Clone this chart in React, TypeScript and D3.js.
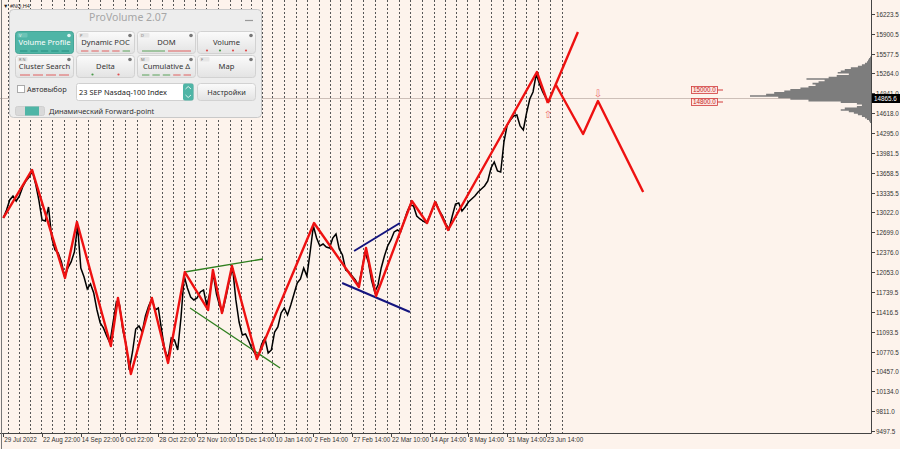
import { useEffect, useRef } from "react"
import * as d3 from "d3"

const W = 900
const H = 449

// right price scale
const priceTicks = [
  16223.5, 15900.5, 15577.5, 15264.0, 14941.0, 14618.0, 14295.0, 13981.5, 13658.5, 13335.5, 13022.0,
  12699.0, 12376.0, 12053.0, 11739.5, 11416.5, 11093.5, 10770.5, 10457.0, 10134.0, 9811.0, 9497.5,
]

// bottom time labels (one every 12 bars)
const timeLabels = [
  "29 Jul 2022", "22 Aug 22:00", "14 Sep 22:00", "6 Oct 22:00", "28 Oct 22:00", "22 Nov 10:00",
  "15 Dec 14:00", "10 Jan 14:00", "2 Feb 14:00", "27 Feb 14:00", "22 Mar 10:00", "14 Apr 14:00",
  "8 May 14:00", "31 May 14:00", "23 Jun 14:00",
]
const timeLabelDates = [
  new Date(2022, 6, 29), new Date(2022, 7, 22, 22), new Date(2022, 8, 14, 22), new Date(2022, 9, 6, 22),
  new Date(2022, 9, 28, 22), new Date(2022, 10, 22, 10), new Date(2022, 11, 15, 14), new Date(2023, 0, 10, 14),
  new Date(2023, 1, 2, 14), new Date(2023, 1, 27, 14), new Date(2023, 2, 22, 10), new Date(2023, 3, 14, 14),
  new Date(2023, 4, 8, 14), new Date(2023, 4, 31, 14), new Date(2023, 5, 23, 14),
]
const barsPerLabel = 12

// Nasdaq-100 closes, one per bar
const closes = [
  12931, 13060, 13222, 13286, 13205, 13286, 13431, 13528, 13593, 13690,
  13480, 13222, 12899, 12882, 13109, 12608, 12415, 12366, 12221, 11979,
  12124, 12221, 12382, 12802, 12124, 11979, 11785, 11866, 11720, 11446,
  11236, 11156, 11026, 10913, 11252, 11575, 11527, 11123, 10897, 10478,
  10768, 11139, 11188, 11091, 11349, 11511, 11624, 11446, 11478, 11123,
  10801, 10671, 10994, 10962, 10801, 11317, 11995, 11801, 11656, 11608,
  11640, 11737, 11769, 11511, 11737, 12027, 11704, 11511, 11446, 11672,
  11930, 12124, 11608, 11252, 11043, 11059, 10946, 10817, 10736, 10704,
  10897, 10994, 10752, 10801, 11091, 11172, 11398, 11478, 11365, 11527,
  11704, 11882, 11946, 12124, 11995, 12382, 12802, 12608, 12479, 12511,
  12463, 12447, 12608, 12673, 12431, 12334, 12092, 12059, 11995, 11930,
  11833, 12092, 12382, 12221, 11930, 11737, 11850, 12124, 12318, 12479,
  12576, 12705, 12737, 12705, 12866, 13028, 13141, 13125, 12963, 12915,
  12882, 12850, 12963, 13092, 13173, 13044, 12963, 12834, 12753, 12963,
  13157, 13173, 13044, 13109, 13189, 13238, 13286, 13351, 13399, 13447,
  13528, 13738, 13835, 13690, 13673, 14158, 14432, 14513, 14577, 14593,
  14416, 14352, 14626, 14852, 14965, 15255, 15094, 14965, 14868, 14803,
]

// zigzag swings
const zigzagBars = [0, 8.9, 19.1, 22.8, 33.3, 35.5, 39.5, 46.0, 51.0, 56.2, 63.4, 64.9, 67.7, 70.8, 78.5, 96.2, 110.1, 112.3, 115.4, 126.5, 131.2, 133.7, 137.7, 165.2, 168.6]
const zigzagPrices = [12931, 13706, 11963, 12866, 10865, 11640, 10413, 11640, 10591, 12059, 11446, 12092, 11398, 12156, 10655, 12850, 11817, 12447, 11672, 13205, 12850, 13189, 12737, 15287, 14787]

// forward-point projections
const forwardUpBars = [168.6, 177.9]
const forwardUpPrices = [14787, 15933]
const forwardDownBars = [171.1, 179.5, 184.1, 198.1]
const forwardDownPrices = [15078, 14287, 14819, 13351]

// pattern lines
const greenUpperBars = [56.2, 80.4]
const greenUpperPrices = [12059, 12269]
const greenLowerBars = [57.8, 85.7]
const greenLowerPrices = [11478, 10510]
const blueUpperBars = [108.6, 122.8]
const blueUpperPrices = [12398, 12850]
const blueLowerBars = [104.9, 125.9]
const blueLowerPrices = [11882, 11414]

// volume profile
const profilePrices = [
  15550, 15525, 15500, 15475, 15450, 15425, 15400, 15375, 15350, 15325, 15300, 15275, 15250, 15225,
  15200, 15175, 15150, 15125, 15100, 15075, 15050, 15025, 15000, 14975, 14950, 14925, 14900, 14875,
  14850, 14825, 14800, 14775, 14750, 14725, 14700, 14675, 14650, 14625, 14600, 14575, 14550, 14525,
  14500, 14475,
]
const profileVolumes = [
  0, 1, 2, 3, 4, 6, 9, 13, 20, 26, 30, 33, 22, 34,
  42, 64, 46, 52, 58, 55, 62, 70, 80, 86, 96, 104, 120, 92,
  80, 62, 30, 14, 9, 14, 26, 30, 22, 17, 13, 9, 6, 4,
  2, 1,
]

const levelPrices = [15000, 14800]
const lastPrice = 14865.6

const panelButtons = [
  { label: "Volume Profile", tag: "V", active: true, marks: ["#1f8a7a", "#1f8a7a", "#1f8a7a", "#1f8a7a", "#1f8a7a"], kind: "dash" },
  { label: "Dynamic POC", tag: "P", active: false, marks: ["#e05050", "#e05050", "#e05050", "#e05050", "#4a9a4a"], kind: "dash" },
  { label: "DOM", tag: "D", active: false, marks: ["#4a9a4a", "#e05050"], kind: "dash" },
  { label: "Volume", tag: "", active: false, marks: ["#e05050", "#4a9a4a", "#e05050", "#e05050"], kind: "dot" },
  { label: "Cluster Search", tag: "R  N", active: false, marks: ["#e05050", "#e05050", "#e05050", "#e05050"], kind: "dash" },
  { label: "Delta", tag: "", active: false, marks: ["#4a9a4a", "#e05050"], kind: "dot" },
  { label: "Cumulative Δ", tag: "M", active: false, marks: ["#4a9a4a", "#4a9a4a", "#4a9a4a", "#e05050", "#e05050"], kind: "dash" },
  { label: "Map", tag: "F", active: false, marks: [], kind: "dash" },
]

export default function App() {
  const svgRef = useRef<SVGSVGElement>(null)

  useEffect(() => {
    document.body.style.margin = "0"
    if (!svgRef.current) return
    const svg = d3.select(svgRef.current)
    svg.selectAll("*").remove()

    const plotRight = 871
    const plotBottom = 433
    const axisFont = "'Liberation Sans', Arial, sans-serif"
    const uiFont = "'Noto Sans', 'Open Sans', sans-serif"

    const lastBar = barsPerLabel * (timeLabels.length - 1)
    const x = d3.scaleLinear().domain([0, lastBar]).range([3.3, 3.3 + 38.76 * (timeLabels.length - 1)])
    const y = d3.scaleLinear().domain([9497.5, 16223.5]).range([430.7, 14])
    const dateToBar = d3
      .scaleLinear()
      .domain(timeLabelDates.map((d) => +d))
      .range(timeLabelDates.map((_, i) => i * barsPerLabel))

    svg.append("rect").attr("width", W).attr("height", H).attr("fill", "#fdf3ec")

    const defs = svg.append("defs")
    defs
      .append("clipPath")
      .attr("id", "plot-clip")
      .append("rect")
      .attr("x", 0)
      .attr("y", 0)
      .attr("width", plotRight)
      .attr("height", plotBottom)

    const plot = svg.append("g").attr("clip-path", "url(#plot-clip)")

    // weekly separators
    const mondays = d3.timeMonday.range(new Date(2022, 6, 25), new Date(2023, 6, 4))
    plot
      .selectAll(".week")
      .data(mondays)
      .join("line")
      .attr("class", "week")
      .attr("x1", (d) => Math.round(x(dateToBar(+d))) + 0.5)
      .attr("x2", (d) => Math.round(x(dateToBar(+d))) + 0.5)
      .attr("y1", 0)
      .attr("y2", plotBottom)
      .attr("stroke", "#555")
      .attr("stroke-width", 1)
      .attr("stroke-dasharray", "2,2")

    // bid line
    plot
      .append("line")
      .attr("x1", 0)
      .attr("x2", plotRight)
      .attr("y1", Math.round(y(lastPrice)) + 0.5)
      .attr("y2", Math.round(y(lastPrice)) + 0.5)
      .attr("stroke", "#cdbfb8")

    // volume profile, drawn as one stepped outline
    const vScale = d3.scaleLinear().domain([0, d3.max(profileVolumes) as number]).range([0, 121])
    const half = 12.5
    const outline: [number, number][] = [[plotRight, y(profilePrices[0] + half)]]
    profilePrices.forEach((p, i) => {
      const xv = plotRight - vScale(profileVolumes[i])
      outline.push([xv, y(p + half)])
      outline.push([xv, y(p - half)])
    })
    outline.push([plotRight, y(profilePrices[profilePrices.length - 1] - half)])
    plot
      .append("path")
      .attr("d", d3.line()(outline) + "Z")
      .attr("fill", "#7d7d7d")

    // price
    const priceLine = d3
      .line<number>()
      .x((_, i) => x(i))
      .y((d) => y(d))
    plot
      .append("path")
      .attr("d", priceLine(closes))
      .attr("fill", "none")
      .attr("stroke", "#000")
      .attr("stroke-width", 1.5)
      .attr("stroke-linejoin", "miter")

    const seg = (bars: number[], prices: number[]) =>
      d3
        .line<number>()
        .x((d) => x(d))
        .y((_, i) => y(prices[i]))(bars)

    const drawLine = (bars: number[], prices: number[], color: string, width: number) =>
      plot
        .append("path")
        .attr("d", seg(bars, prices))
        .attr("fill", "none")
        .attr("stroke", color)
        .attr("stroke-width", width)
        .attr("stroke-linejoin", "round")

    drawLine(greenUpperBars, greenUpperPrices, "#2f7f1f", 1.3)
    drawLine(greenLowerBars, greenLowerPrices, "#2f7f1f", 1.3)
    drawLine(blueUpperBars, blueUpperPrices, "#14147e", 2)
    drawLine(blueLowerBars, blueLowerPrices, "#14147e", 2)

    drawLine(zigzagBars, zigzagPrices, "#ee1111", 2.4)
    drawLine(forwardUpBars, forwardUpPrices, "#ee1111", 2.4)
    drawLine(forwardDownBars, forwardDownPrices, "#ee1111", 2.4)

    // forward-point arrows
    const arrow = (bx: number, py: number, dy: number, glyph: string) =>
      plot
        .append("text")
        .attr("x", x(bx))
        .attr("y", y(py) + dy)
        .attr("text-anchor", "middle")
        .style("font-family", "'DejaVu Sans', sans-serif")
        .style("font-size", "10px")
        .style("fill", "#ec6a6a")
        .text(glyph)
    arrow(forwardUpBars[0], forwardUpPrices[0], 15, "⇧")
    arrow(forwardDownBars[2], forwardDownPrices[2], -4, "⇩")

    // level labels
    const levels = plot
      .selectAll(".level")
      .data(levelPrices)
      .join("g")
      .attr("class", "level")
      .attr("transform", (d) => `translate(691, ${Math.round(y(d))})`)
    levels
      .append("rect")
      .attr("x", 0.5)
      .attr("y", -3.5)
      .attr("width", 26)
      .attr("height", 7)
      .attr("fill", "#fde6e1")
      .attr("stroke", "#d23a3a")
      .attr("stroke-width", 0.8)
    levels
      .append("line")
      .attr("x1", 26.5)
      .attr("x2", 32)
      .attr("y1", 0)
      .attr("y2", 0)
      .attr("stroke", "#d23a3a")
    levels
      .append("text")
      .attr("x", 13.5)
      .attr("y", 2.3)
      .attr("text-anchor", "middle")
      .style("font-family", axisFont)
      .style("font-size", "6.3px")
      .style("fill", "#c62828")
      .text((d) => d.toFixed(1))

    // axes
    svg.append("line").attr("x1", plotRight + 0.5).attr("x2", plotRight + 0.5).attr("y1", 0).attr("y2", plotBottom + 0.5).attr("stroke", "#444")
    svg.append("line").attr("x1", 0).attr("x2", plotRight + 0.5).attr("y1", plotBottom + 0.5).attr("y2", plotBottom + 0.5).attr("stroke", "#444")
    svg.append("line").attr("x1", 1.5).attr("x2", 1.5).attr("y1", 0).attr("y2", H).attr("stroke", "#777")

    const yTicks = svg.append("g")
    yTicks
      .selectAll("line")
      .data(priceTicks)
      .join("line")
      .attr("x1", plotRight)
      .attr("x2", plotRight + 4)
      .attr("y1", (d) => Math.round(y(d)) + 0.5)
      .attr("y2", (d) => Math.round(y(d)) + 0.5)
      .attr("stroke", "#444")
    yTicks
      .selectAll("text")
      .data(priceTicks)
      .join("text")
      .attr("x", plotRight + 5)
      .attr("y", (d) => Math.round(y(d)) + 2.5)
      .style("font-family", axisFont)
      .style("font-size", "6.3px")
      .style("fill", "#333")
      .text((d) => d.toFixed(1))

    const xTicks = svg.append("g")
    xTicks
      .selectAll("line")
      .data(timeLabels)
      .join("line")
      .attr("x1", (_, i) => Math.round(x(i * barsPerLabel)) + 0.5)
      .attr("x2", (_, i) => Math.round(x(i * barsPerLabel)) + 0.5)
      .attr("y1", plotBottom)
      .attr("y2", plotBottom + 4)
      .attr("stroke", "#444")
    xTicks
      .selectAll("text")
      .data(timeLabels)
      .join("text")
      .attr("x", (_, i) => x(i * barsPerLabel) + 1)
      .attr("y", plotBottom + 9)
      .style("font-family", axisFont)
      .style("font-size", "6.3px")
      .style("fill", "#333")
      .text((d) => d)

    // last price box
    const ly = Math.round(y(lastPrice))
    svg.append("rect").attr("x", plotRight + 1).attr("y", ly - 4).attr("width", 28).attr("height", 9).attr("fill", "#000")
    svg
      .append("text")
      .attr("x", plotRight + 3)
      .attr("y", ly + 2.7)
      .style("font-family", axisFont)
      .style("font-size", "6.3px")
      .style("fill", "#fff")
      .text(lastPrice.toFixed(1))

    // symbol title
    svg
      .append("text")
      .attr("x", 3)
      .attr("y", 8)
      .style("font-family", axisFont)
      .style("font-size", "5.5px")
      .style("fill", "#222")
      .text("▼ #NQ,H4")

    // ProVolume panel
    const panel = svg.append("g")
    panel
      .append("rect")
      .attr("x", 9.5)
      .attr("y", 9.5)
      .attr("width", 252)
      .attr("height", 108)
      .attr("rx", 4)
      .attr("fill", "#ededed")
      .attr("stroke", "#c9c9c9")
    panel
      .append("text")
      .attr("x", 128)
      .attr("y", 21)
      .attr("text-anchor", "middle")
      .style("font-family", uiFont)
      .style("font-size", "10.5px")
      .style("fill", "#a6a6a6")
      .text("ProVolume 2.07")
    panel.append("line").attr("x1", 245).attr("x2", 253).attr("y1", 20.5).attr("y2", 20.5).attr("stroke", "#999").attr("stroke-width", 1.2)

    const grad = defs.append("linearGradient").attr("id", "btn").attr("x1", 0).attr("y1", 0).attr("x2", 0).attr("y2", 1)
    grad.append("stop").attr("offset", "0%").attr("stop-color", "#fbfbfb")
    grad.append("stop").attr("offset", "100%").attr("stop-color", "#e3e3e3")

    const cols = [15, 76, 137, 197]
    const rows = [31, 55]
    const bw = 58
    const bh = 22
    panelButtons.forEach((b, i) => {
      const bx = cols[i % 4] + 0.5
      const by = rows[Math.floor(i / 4)] + 0.5
      const g = panel.append("g").attr("transform", `translate(${bx},${by})`)
      g.append("rect")
        .attr("width", bw)
        .attr("height", bh)
        .attr("rx", 3)
        .attr("fill", b.active ? "#4fb5a6" : "url(#btn)")
        .attr("stroke", b.active ? "#46a596" : "#d2d2d2")
      if (b.tag) {
        g.append("rect").attr("x", 2).attr("y", 1.5).attr("width", 10).attr("height", 4.5).attr("rx", 1).attr("fill", b.active ? "#6cc3b6" : "#e6e6e6")
        g.append("text")
          .attr("x", 3.5)
          .attr("y", 5.3)
          .style("font-family", uiFont)
          .style("font-size", "4px")
          .style("fill", b.active ? "#e8fffb" : "#777")
          .text(b.tag)
      }
      g.append("circle").attr("cx", bw - 4.5).attr("cy", 4).attr("r", 1.8).attr("fill", b.active ? "#e0f5f2" : "#777")
      g.append("text")
        .attr("x", bw / 2)
        .attr("y", 13.5)
        .attr("text-anchor", "middle")
        .style("font-family", uiFont)
        .style("font-size", "7.6px")
        .style("fill", b.active ? "#fff" : "#333")
        .text(b.label)
      const n = b.marks.length
      b.marks.forEach((c, k) => {
        const cw = (bw - 6) / n
        const cx0 = 3 + k * cw
        if (b.kind === "dot") {
          g.append("circle").attr("cx", cx0 + cw / 2).attr("cy", bh - 3).attr("r", 1.1).attr("fill", c)
        } else {
          g.append("line")
            .attr("x1", cx0 + 1.5)
            .attr("x2", cx0 + cw - 1.5)
            .attr("y1", bh - 2.5)
            .attr("y2", bh - 2.5)
            .attr("stroke", c)
            .attr("stroke-width", 0.9)
        }
      })
    })

    // autoselect checkbox
    panel.append("rect").attr("x", 17.5).attr("y", 85.5).attr("width", 7).attr("height", 7).attr("fill", "#fff").attr("stroke", "#aaa")
    panel
      .append("text")
      .attr("x", 27)
      .attr("y", 92)
      .style("font-family", uiFont)
      .style("font-size", "7.4px")
      .style("fill", "#333")
      .text("Автовыбор")

    // symbol dropdown
    panel.append("rect").attr("x", 76.5).attr("y", 83.5).attr("width", 117).attr("height", 17).attr("rx", 2).attr("fill", "#fff").attr("stroke", "#d0d0d0")
    panel.append("rect").attr("x", 183).attr("y", 83.5).attr("width", 10.5).attr("height", 17).attr("rx", 2).attr("fill", "#4fb5a6")
    panel.append("path").attr("d", "M185.5,89 L188.2,86.5 L191,89 M185.5,95 L188.2,97.5 L191,95").attr("fill", "none").attr("stroke", "#fff").attr("stroke-width", 0.8)
    panel
      .append("text")
      .attr("x", 79)
      .attr("y", 94.5)
      .style("font-family", uiFont)
      .style("font-size", "7.4px")
      .style("fill", "#222")
      .text("23 SEP Nasdaq-100 Index")

    // settings button
    panel.append("rect").attr("x", 197.5).attr("y", 83.5).attr("width", 58).attr("height", 17).attr("rx", 3).attr("fill", "url(#btn)").attr("stroke", "#d2d2d2")
    panel
      .append("text")
      .attr("x", 226.5)
      .attr("y", 94.5)
      .attr("text-anchor", "middle")
      .style("font-family", uiFont)
      .style("font-size", "7.4px")
      .style("fill", "#333")
      .text("Настройки")

    // forward-point toggle
    panel.append("rect").attr("x", 15.5).attr("y", 106.5).attr("width", 29).attr("height", 9).attr("rx", 2).attr("fill", "#d9d9d9").attr("stroke", "#cfcfcf")
    panel.append("rect").attr("x", 25).attr("y", 106.5).attr("width", 14).attr("height", 9).attr("fill", "#4fb5a6")
    panel
      .append("text")
      .attr("x", 49)
      .attr("y", 113.5)
      .style("font-family", uiFont)
      .style("font-size", "7.4px")
      .style("fill", "#333")
      .text("Динамический Forward-point")
  }, [])

  return (
    <div style={{ position: "absolute", left: 0, top: 0, width: W, height: H }}>
      <svg ref={svgRef} width={W} height={H} style={{ display: "block" }}></svg>
    </div>
  )
}
